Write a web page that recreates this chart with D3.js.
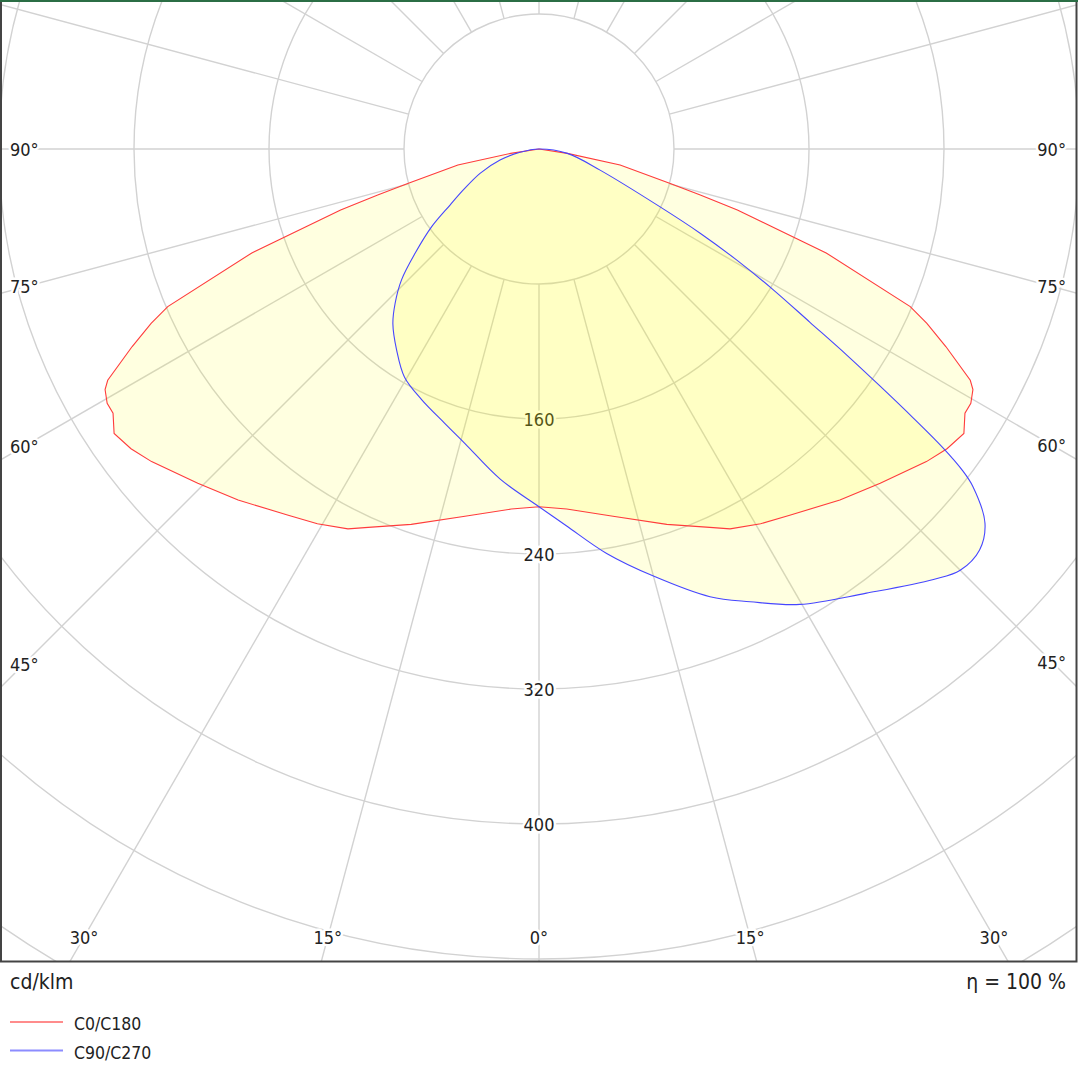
<!DOCTYPE html>
<html>
<head>
<meta charset="utf-8">
<script src="https://cdn.jsdelivr.net/npm/d3@7"></script>
<style>
  body { margin: 0; background: #fff; }
  text { font-family: "DejaVu Sans Condensed", "DejaVu Sans", sans-serif; fill: #222; }
</style>
</head>
<body>
<svg width="1078" height="1079"></svg>
<script>
var svg = d3.select("svg"),
    width = +svg.attr("width"),
    height = +svg.attr("height");

// luminous intensity, cd/klm (gamma in degrees from nadir)
var c0Gamma = [0, 4.4, 11.4, 18.8, 24.3, 26.7, 30.6, 34.4, 40.6, 45.6, 51.1, 53.7, 56.2, 58.2, 59.5, 61.0, 61.8, 64.1, 65.8, 67.0, 70.1, 72.9, 74.1, 75.3, 78.8, 81.2, 90];
var c0Value = [212, 214, 222, 235, 246, 252, 258, 263, 274, 283, 295, 300, 303, 297, 297, 294, 290, 268, 252, 239, 181, 123, 99, 80, 49, 17, 0];

var c90Gamma = [0, 4.2, 9.5, 15.0, 20.9, 25.0, 29.8, 36.4, 42.5, 45.0, 47.7, 50.0, 52.1, 52.8, 53.5, 54.3, 55.2, 56.2, 57.4, 59.0, 60.7, 62.4, 64.5, 71.0, 81.2, 90];
var c90Value = [212, 224, 243, 262, 284, 296, 311, 327, 346, 353, 353, 345, 326, 315, 298, 273, 246, 219.5, 190.6, 162, 134, 108, 79, 38, 17, 0];

var c270Gamma = [0, 6.7, 14.1, 18.9, 25.1, 30.5, 35.3, 39.9, 43.0, 46.4, 49.9, 54.1, 57.8, 61.6, 67.6, 74.3, 80.1, 90];
var c270Value = [212, 197, 180, 172, 164, 157, 146, 135, 125, 112.5, 96, 78.5, 62.3, 51, 37.8, 24, 11.4, 0];

var ringValues = [80, 160, 240, 320, 400, 480, 560, 640];
var ringLabels = [160, 240, 320, 400];
var spokeAngles = d3.range(-180, 180, 15);
var sideLabelAngles = [90, 75, 60, 45];
var bottomLabelAngles = [-30, -15, 0, 15, 30];

var legendNames = ["C0/C180", "C90/C270"];
var curveColors = ["#ff3c3c", "#4646ff"];
var legendColors = ["#ff8c8c", "#8c8cff"];

var cx = 539, cy = 149;
var frame = {left: 1, top: 1, right: 1076.5, bottom: 961.5};

var r = d3.scaleLinear().domain([0, 80]).range([0, 135]);
var rad = function(deg) { return deg * Math.PI / 180; };

svg.append("defs").append("clipPath").attr("id", "plotclip")
  .append("rect")
    .attr("x", frame.left).attr("y", frame.top)
    .attr("width", frame.right - frame.left).attr("height", frame.bottom - frame.top);

var gPlot = svg.append("g").attr("clip-path", "url(#plotclip)");
var gGrid = gPlot.append("g").attr("transform", "translate(" + cx + "," + cy + ")");

gGrid.selectAll("circle.ring")
  .data(ringValues)
  .enter().append("circle")
    .attr("class", "ring")
    .attr("r", function(d) { return r(d); })
    .attr("fill", "none")
    .attr("stroke", "#d2d2d2")
    .attr("stroke-width", 1.4);

// spokes start at the first ring, angle 0 points down
gGrid.selectAll("line.spoke")
  .data(spokeAngles)
  .enter().append("line")
    .attr("class", "spoke")
    .attr("x1", function(d) { return r(80) * Math.sin(rad(d)); })
    .attr("y1", function(d) { return r(80) * Math.cos(rad(d)); })
    .attr("x2", function(d) { return r(900) * Math.sin(rad(d)); })
    .attr("y2", function(d) { return r(900) * Math.cos(rad(d)); })
    .attr("stroke", "#d2d2d2")
    .attr("stroke-width", 1.4);

function halo(sel) {
  sel.attr("stroke", "#fff").attr("stroke-width", 5).attr("paint-order", "stroke")
     .attr("stroke-linejoin", "round");
}

gGrid.selectAll("text.ringlabel")
  .data(ringLabels)
  .enter().append("text")
    .attr("class", "ringlabel")
    .attr("x", 0)
    .attr("y", function(d) { return r(d); })
    .attr("text-anchor", "middle")
    .attr("dominant-baseline", "central")
    .style("font-size", "18px")
    .text(function(d) { return d; })
    .call(halo);

// angle labels where the spokes meet the frame
var leftX = 24, rightX = 1052, bottomY = 937;
gPlot.selectAll("text.left")
  .data(sideLabelAngles)
  .enter().append("text")
    .attr("x", 10)
    .attr("y", function(d) { return cy + (cx - leftX) / Math.tan(rad(d)); })
    .attr("dominant-baseline", "central")
    .style("font-size", "18px")
    .text(function(d) { return d + "°"; })
    .call(halo);

gPlot.selectAll("text.right")
  .data(sideLabelAngles)
  .enter().append("text")
    .attr("x", 1066)
    .attr("y", function(d) { return cy + (rightX - cx) / Math.tan(rad(d)); })
    .attr("text-anchor", "end")
    .attr("dominant-baseline", "central")
    .style("font-size", "18px")
    .text(function(d) { return d + "°"; })
    .call(halo);

gPlot.selectAll("text.bottom")
  .data(bottomLabelAngles)
  .enter().append("text")
    .attr("x", function(d) { return cx + (bottomY - cy) * Math.tan(rad(d)); })
    .attr("y", bottomY)
    .attr("text-anchor", "middle")
    .attr("dominant-baseline", "central")
    .style("font-size", "18px")
    .text(function(d) { return Math.abs(d) + "°"; })
    .call(halo);

// build closed outline: left half (gamma 90 -> 0), then right half (0 -> 90)
function outline(leftG, leftV, rightG, rightV) {
  var pts = [];
  for (var i = leftG.length - 1; i >= 0; i--) pts.push([Math.PI + rad(leftG[i]), r(leftV[i])]);
  for (var j = 1; j < rightG.length; j++) pts.push([Math.PI - rad(rightG[j]), r(rightV[j])]);
  return pts;
}

var redPts = outline(c0Gamma, c0Value, c0Gamma, c0Value);
var bluePts = outline(c270Gamma, c270Value, c90Gamma, c90Value);
bluePts.pop(); // centre point already at start

var redLine = d3.lineRadial().curve(d3.curveLinearClosed);
var blueLine = d3.lineRadial().curve(d3.curveCatmullRomClosed.alpha(0.5));

var gCurves = gPlot.append("g").attr("transform", "translate(" + cx + "," + cy + ")");

gCurves.append("path").attr("d", redLine(redPts))
  .attr("fill", "#ffff00").attr("fill-opacity", 0.12).attr("stroke", "none");
gCurves.append("path").attr("d", blueLine(bluePts))
  .attr("fill", "#ffff00").attr("fill-opacity", 0.12).attr("stroke", "none");
gCurves.append("path").attr("d", redLine(redPts))
  .attr("fill", "none").attr("stroke", curveColors[0]).attr("stroke-width", 1.1);
gCurves.append("path").attr("d", blueLine(bluePts))
  .attr("fill", "none").attr("stroke", curveColors[1]).attr("stroke-width", 1.1);

// frame
svg.append("rect")
  .attr("x", frame.left).attr("y", frame.top)
  .attr("width", frame.right - frame.left).attr("height", frame.bottom - frame.top)
  .attr("fill", "none").attr("stroke", "#444").attr("stroke-width", 2);
svg.append("line")
  .attr("x1", 0).attr("x2", width).attr("y1", 1).attr("y2", 1)
  .attr("stroke", "#2b6e45").attr("stroke-width", 2);

svg.append("text").attr("x", 10).attr("y", 989)
  .style("font-size", "21px").text("cd/klm");
svg.append("text").attr("x", 1066).attr("y", 989).attr("text-anchor", "end")
  .style("font-size", "21px").text("η = 100 %");

var legend = svg.selectAll("g.legend")
  .data(legendNames)
  .enter().append("g")
    .attr("class", "legend")
    .attr("transform", function(d, i) { return "translate(0," + (1022 + i * 28.5) + ")"; });
legend.append("line")
  .attr("x1", 10).attr("x2", 63).attr("y1", 0).attr("y2", 0)
  .attr("stroke", function(d, i) { return legendColors[i]; })
  .attr("stroke-width", 2);
legend.append("text")
  .attr("x", 74).attr("y", 2)
  .attr("dominant-baseline", "central")
  .style("font-size", "17.5px")
  .text(function(d) { return d; });
</script>
</body>
</html>
